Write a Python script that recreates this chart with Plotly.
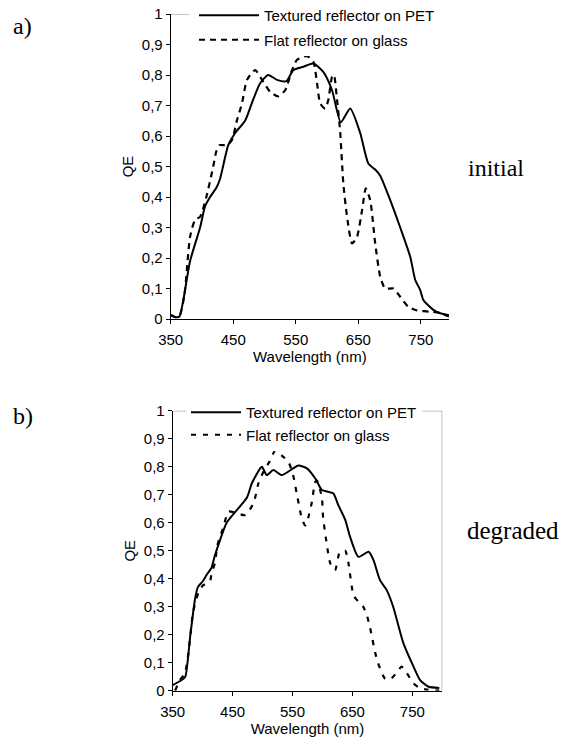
import plotly.graph_objects as go

# ---------------- data (a) initial ----------------
wl_pet_a = [350, 358, 364, 370, 381, 397, 405, 413, 423, 429, 437, 442, 453, 469, 482, 493, 506, 520, 535,
            546, 562, 578, 594, 608, 622, 637, 653, 666, 677, 685, 701, 717, 733, 741, 749, 754, 770, 781, 795]
qe_pet_a = [0.013, 0.006, 0.008, 0.06, 0.19, 0.30, 0.37, 0.40, 0.43, 0.46, 0.53, 0.57, 0.61, 0.65, 0.72, 0.773, 0.80, 0.784, 0.78,
            0.816, 0.827, 0.838, 0.81, 0.75, 0.645, 0.69, 0.61, 0.51, 0.49, 0.47, 0.39, 0.30, 0.204, 0.128, 0.095, 0.062, 0.03, 0.019, 0.012]

wl_glass_a = [350, 358, 364, 372, 381, 389, 397, 407, 418, 423, 428, 440, 448, 456, 464, 472, 485, 496, 509, 522, 533,
              544, 552, 568, 578, 584, 589, 597, 602, 608, 611, 616, 621, 626, 632, 640, 648, 656, 662, 669, 677,
              685, 693, 706, 717, 730, 744, 765, 780, 795]
qe_glass_a = [0.013, 0.006, 0.01, 0.08, 0.27, 0.325, 0.335, 0.40, 0.50, 0.55, 0.57, 0.57, 0.587, 0.652, 0.707, 0.784, 0.816, 0.784, 0.745, 0.73, 0.75,
              0.816, 0.85, 0.862, 0.844, 0.773, 0.707, 0.69, 0.718, 0.794, 0.80, 0.718, 0.614, 0.445, 0.335, 0.248, 0.27, 0.357, 0.428, 0.39, 0.248,
              0.139, 0.10, 0.10, 0.073, 0.04, 0.028, 0.024, 0.02, 0.008]

# ---------------- data (b) degraded ----------------
wl_pet_b = [350, 365, 371, 379, 387, 392, 400, 407, 415, 420, 429, 440, 457, 474, 482, 496, 499, 507, 518, 532,
            551, 560, 574, 588, 599, 610, 618, 627, 638, 646, 660, 677, 685, 696, 707, 718, 735, 752, 763, 777, 795]
qe_pet_b = [0.02, 0.038, 0.05, 0.19, 0.324, 0.37, 0.39, 0.415, 0.44, 0.48, 0.538, 0.60, 0.645, 0.69, 0.74, 0.794, 0.80, 0.77, 0.788, 0.77,
            0.794, 0.804, 0.794, 0.758, 0.717, 0.71, 0.705, 0.66, 0.61, 0.55, 0.478, 0.496, 0.467, 0.395, 0.36, 0.30, 0.17, 0.086, 0.038, 0.014, 0.01]

wl_glass_b = [354, 362, 370, 376, 384, 393, 401, 412, 415, 421, 424, 429, 435, 443, 457, 471, 485, 493, 501, 512, 521, 532,
              543, 551, 557, 565, 571, 576, 582, 588, 591, 599, 601, 607, 613, 621, 629, 638, 643, 652, 660, 668, 674,
              679, 691, 704, 713, 727, 732, 741, 752, 763, 775, 795]
qe_glass_b = [0.0, 0.038, 0.06, 0.13, 0.28, 0.35, 0.377, 0.39, 0.42, 0.46, 0.514, 0.55, 0.586, 0.64, 0.634, 0.627, 0.67, 0.74, 0.78, 0.82, 0.857, 0.84,
              0.818, 0.77, 0.705, 0.62, 0.59, 0.616, 0.67, 0.746, 0.75, 0.69, 0.62, 0.526, 0.455, 0.43, 0.496, 0.50, 0.46, 0.34, 0.318, 0.30, 0.27,
              0.229, 0.11, 0.044, 0.04, 0.074, 0.086, 0.062, 0.026, 0.009, 0.004, 0.0]

name_pet = "Textured reflector on PET"
name_glass = "Flat reflector on glass"
x_ticks = [350, 450, 550, 650, 750]
y_ticks = [0, 0.1, 0.2, 0.3, 0.4, 0.5, 0.6, 0.7, 0.8, 0.9, 1]
y_ticktext = ["0", "0,1", "0,2", "0,3", "0,4", "0,5", "0,6", "0,7", "0,8", "0,9", "1"]

W, H = 565, 740
FONT = "Liberation Sans, Arial, sans-serif"
SERIF = "Liberation Serif, Times New Roman, serif"

fig = go.Figure()
fig.add_trace(go.Scatter(x=wl_pet_a, y=qe_pet_a, name=name_pet, mode="lines",
                         line=dict(color="black", width=2, shape="spline", smoothing=0.6),
                         xaxis="x", yaxis="y", legend="legend", legendgroup="a1"))
fig.add_trace(go.Scatter(x=wl_glass_a, y=qe_glass_a, name=name_glass, mode="lines",
                         line=dict(color="black", width=2.2, dash="6px,5px", shape="spline", smoothing=0.6),
                         xaxis="x", yaxis="y", legend="legend", legendgroup="a2"))
fig.add_trace(go.Scatter(x=wl_pet_b, y=qe_pet_b, name=name_pet, mode="lines",
                         line=dict(color="black", width=2, shape="spline", smoothing=0.6),
                         xaxis="x2", yaxis="y2", legend="legend2", legendgroup="b1"))
fig.add_trace(go.Scatter(x=wl_glass_b, y=qe_glass_b, name=name_glass, mode="lines",
                         line=dict(color="black", width=2.2, dash="5px,7px", shape="spline", smoothing=0.6),
                         xaxis="x2", yaxis="y2", legend="legend2", legendgroup="b2"))

def px_x(p):
    return p / W

def px_y(p):
    return 1 - p / H

axis_common = dict(showgrid=False, zeroline=False, showline=True, linecolor="black", linewidth=1,
                   ticks="outside", ticklen=4, tickcolor="black", tickwidth=1, automargin=False,
                   tickfont=dict(family=FONT, size=15, color="black"))

fig.update_layout(
    width=W, height=H, margin=dict(l=0, r=0, t=0, b=0, autoexpand=False),
    paper_bgcolor="white", plot_bgcolor="white",
    font=dict(family=FONT, size=15, color="black"),
    xaxis=dict(domain=[px_x(170.7), px_x(449)], range=[350, 795], tickvals=x_ticks, anchor="y",
               ticklabelstandoff=3,
               title=dict(text="Wavelength (nm)", standoff=1, font=dict(size=15)), **axis_common),
    yaxis=dict(domain=[px_y(319), px_y(14)], range=[0, 1], tickvals=y_ticks, ticktext=y_ticktext, anchor="x",
               title=dict(text="QE", standoff=4, font=dict(size=15)), **axis_common),
    xaxis2=dict(domain=[px_x(172.7), px_x(442.3)], range=[350, 800], tickvals=x_ticks, anchor="y2",
                ticklabelstandoff=3,
                title=dict(text="Wavelength (nm)", standoff=1, font=dict(size=15)), **axis_common),
    yaxis2=dict(domain=[px_y(690.7), px_y(410.7)], range=[0, 1], tickvals=y_ticks, ticktext=y_ticktext, anchor="x2",
                title=dict(text="QE", standoff=4, font=dict(size=15)), **axis_common),
    legend=dict(x=px_x(194), y=px_y(-1), xanchor="left", yanchor="top", bgcolor="white", borderwidth=0,
                font=dict(family=FONT, size=15, color="black"), itemwidth=60, traceorder="grouped",
                tracegroupgap=2),
    legend2=dict(x=px_x(186), y=px_y(396), xanchor="left", yanchor="top", bgcolor="white", borderwidth=0,
                 font=dict(family=FONT, size=15, color="black"), itemwidth=50, traceorder="grouped",
                 tracegroupgap=0),
    showlegend=True,
)

# plot-area frame pieces (light gray), partly hidden behind the legends
fig.add_shape(type="line", xref="x", yref="y", x0=350, x1=380, y0=1, y1=1,
              line=dict(color="#b0b0b0", width=1.5), layer="below")
fig.add_shape(type="line", xref="x2", yref="y2", x0=350, x1=800, y0=1, y1=1,
              line=dict(color="#b0b0b0", width=1.5), layer="below")
fig.add_shape(type="line", xref="x2", yref="y2", x0=800, x1=800, y0=0, y1=1,
              line=dict(color="#b0b0b0", width=1.5), layer="below")

def label(text, x, y, size, xanchor="left"):
    fig.add_annotation(text=text, x=px_x(x), y=px_y(y), xref="paper", yref="paper", showarrow=False,
                       xanchor=xanchor, yanchor="middle", font=dict(family=SERIF, size=size, color="black"))

label("a)", 11, 26, 24)
label("b)", 11, 416, 24)
label("initial", 466, 168, 24)
label("degraded", 465, 530, 25)

fig.write_html("out.html")
